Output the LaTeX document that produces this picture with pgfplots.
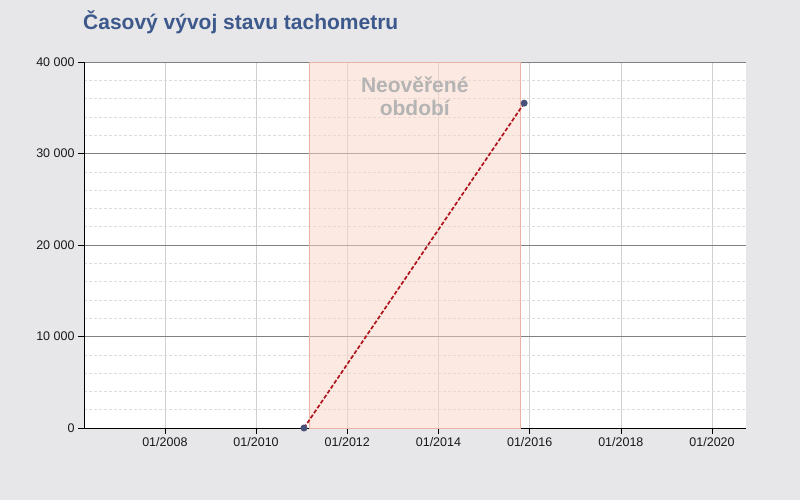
\documentclass[border=0pt]{standalone}
\usepackage{pgfplots}
\pgfplotsset{compat=1.18}
\usepackage{fontspec}
\setmainfont{Liberation Sans}
\definecolor{bg}{RGB}{231,231,233}
\definecolor{titlecol}{RGB}{61,89,140}
\definecolor{shade}{RGB}{251,213,197}
\definecolor{shadeedge}{RGB}{236,178,165}
\definecolor{linered}{RGB}{175,20,30}
\definecolor{markcol}{RGB}{70,80,120}
\definecolor{majgrid}{RGB}{128,128,128}
\definecolor{vgrid}{RGB}{208,208,208}
\definecolor{mingrid}{RGB}{220,220,220}
\definecolor{labgray}{RGB}{180,180,180}
\begin{document}
\begin{tikzpicture}
\fill[bg] (0bp,0bp) rectangle (800bp,500bp);
\useasboundingbox (0bp,0bp) rectangle (800bp,500bp);
\node[anchor=base west, font=\fontsize{21bp}{25bp}\selectfont\bfseries, text=titlecol, inner sep=0] at (83bp,470.5bp) {Časový vývoj stavu tachometru};
\begin{axis}[
  at={(84bp,72bp)}, anchor=south west,
  scale only axis, width=662bp, height=366bp,
  xmin=2006.226, xmax=2020.745,
  ymin=0, ymax=40000,
  scaled y ticks=false, scaled x ticks=false,
  axis background/.style={fill=white},
  axis x line*=bottom, axis y line*=left,
  axis line style={black, line width=0.8pt},
  xtick={2008,2010,2012,2014,2016,2018,2020},
  xticklabels={01/2008,01/2010,01/2012,01/2014,01/2016,01/2018,01/2020},
  ytick={0,10000,20000,30000,40000},
  yticklabels={0,10 000,20 000,30 000,40 000},
  minor ytick={2000,4000,6000,8000,12000,14000,16000,18000,22000,24000,26000,28000,32000,34000,36000,38000},
  tick align=outside,
  major tick length=6bp,
  minor tick length=0pt,
  tick style={black, line width=0.6pt},
  ticklabel style={font=\fontsize{12.5bp}{14bp}\selectfont, text=black!90},
  xmajorgrids, ymajorgrids, yminorgrids,
  x grid style={vgrid, line width=0.6pt},
  y grid style={majgrid, line width=0.6pt},
  minor y grid style={mingrid, dash pattern=on 3pt off 2pt, line width=0.5pt},
  clip=false,
]
\addplot[fill=shade, fill opacity=0.5, draw=shadeedge, line width=0.7pt] coordinates {(2011.161,0) (2011.161,40000) (2015.80,40000) (2015.80,0)} -- cycle;
\node[font=\fontsize{21bp}{23bp}\selectfont\bfseries, text=labgray, align=center] at (axis cs:2013.48,36230) {Neověřené\\období};
\addplot[linered, line width=1.7pt, dash pattern=on 4pt off 2pt, mark=*, mark size=2.6pt, mark options={solid, fill=markcol, draw=markcol}] coordinates {(2011.05,0) (2015.88,35500)};
\end{axis}
\end{tikzpicture}
\end{document}
